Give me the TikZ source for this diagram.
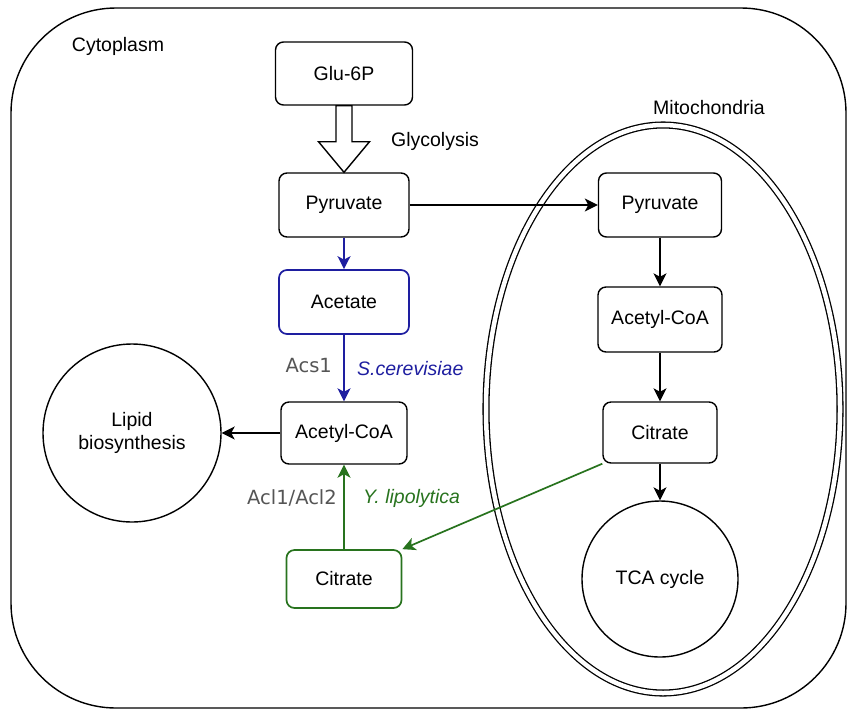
\documentclass[tikz,border=0pt]{standalone}
\usepackage{fontspec}
\setmainfont{Liberation Sans}
\newfontfamily\labfont{DejaVu Sans}
\usetikzlibrary{arrows.meta,calc}
\definecolor{pathblue}{RGB}{30,30,160}
\definecolor{pathgreen}{RGB}{40,115,30}
\definecolor{labgray}{RGB}{85,85,85}
\tikzset{
  stepbox/.style={draw, rounded corners=8pt, line width=1.4pt, inner sep=0pt, font=\fontsize{19.5}{23}\selectfont},
  colbox/.style={stepbox, line width=1.7pt},
  roundnode/.style={draw, circle, line width=1.4pt, inner sep=0pt, align=center, font=\fontsize{19.5}{23}\selectfont},
  conn/.style={line width=1.4pt, -{Stealth[length=13pt,width=13pt,inset=3.5pt]}},
  colconn/.style={conn, line width=1.7pt},
  plaintext/.style={inner sep=0pt, font=\fontsize{19.5}{23}\selectfont},
  enzyme/.style={inner sep=0pt, text=labgray, font=\labfont\fontsize{19.5}{23}\selectfont},
  organism/.style={inner sep=0pt, font=\itshape\fontsize{19.5}{23}\selectfont}
}
\begin{document}
\begin{tikzpicture}[x=1pt,y=-1pt]
\useasboundingbox (0,0) rectangle (850,710);
% compartments
\draw[line width=1.4pt, rounded corners=105pt] (11,8) rectangle (846,708);
\draw[line width=1.3pt, double, double distance=4.5pt] (663,409) ellipse [x radius=177, y radius=284];
\node[plaintext] (cyto) at (118,46) {Cytoplasm};
\node[plaintext] (mito) at (709,108) {Mitochondria};
% cytoplasm nodes
\node[stepbox, minimum width=137pt, minimum height=63pt] (glu) at (344,73.5) {Glu-6P};
\node[stepbox, minimum width=130pt, minimum height=64pt] (pyr) at (344,205) {Pyruvate};
\node[colbox, draw=pathblue, minimum width=130pt, minimum height=64pt] (ace) at (344,302) {Acetate};
\node[stepbox, minimum width=126pt, minimum height=62pt] (acc) at (344,433) {Acetyl-CoA};
\node[colbox, draw=pathgreen, minimum width=115pt, minimum height=58pt] (cit) at (344,579) {Citrate};
\node[roundnode, minimum size=178pt] (lipid) at (132,433) {Lipid\\biosynthesis};
% mitochondria nodes
\node[stepbox, minimum width=123pt, minimum height=64pt] (mpyr) at (660,205) {Pyruvate};
\node[stepbox, minimum width=124pt, minimum height=65pt] (macc) at (660,319.5) {Acetyl-CoA};
\node[stepbox, minimum width=114pt, minimum height=61pt] (mcit) at (660,432.5) {Citrate};
\node[roundnode, minimum size=156pt] (tca) at (660,579) {TCA cycle};
% glycolysis block arrow
\draw[line width=1.4pt, fill=white]
  ($(glu.south)+(-8,0)$) -- ($(glu.south)+(8,0)$) -- ($(glu.south)+(8,36)$) --
  ($(glu.south)+(25.5,36)$) -- (pyr.north) -- ($(glu.south)+(-25.5,36)$) --
  ($(glu.south)+(-8,36)$) -- cycle;
\node[plaintext] (glyc) at (435,141) {Glycolysis};
% connectors
\draw[conn] (pyr.east) -- (mpyr.west);
\draw[colconn, draw=pathblue] (pyr.south) -- (ace.north);
\draw[colconn, draw=pathblue] (ace.south) -- (acc.north);
\draw[conn] (acc.west) -- (lipid.east);
\draw[colconn, draw=pathgreen] (cit.north) -- (acc.south);
\draw[colconn, draw=pathgreen] (mcit.south west) -- (cit.north east);
\draw[conn] (mpyr.south) -- (macc.north);
\draw[conn] (macc.south) -- (mcit.north);
\draw[conn] (mcit.south) -- (tca.north);
% labels
\node[enzyme, anchor=east] (acs) at (332,366) {Acs1};
\node[organism, text=pathblue, anchor=west] (scer) at (357,369) {S.cerevisiae};
\node[enzyme, anchor=east] (acl) at (337,498) {Acl1/Acl2};
\node[organism, text=pathgreen, anchor=west] (ylip) at (363,498) {Y. lipolytica};
\end{tikzpicture}
\end{document}
